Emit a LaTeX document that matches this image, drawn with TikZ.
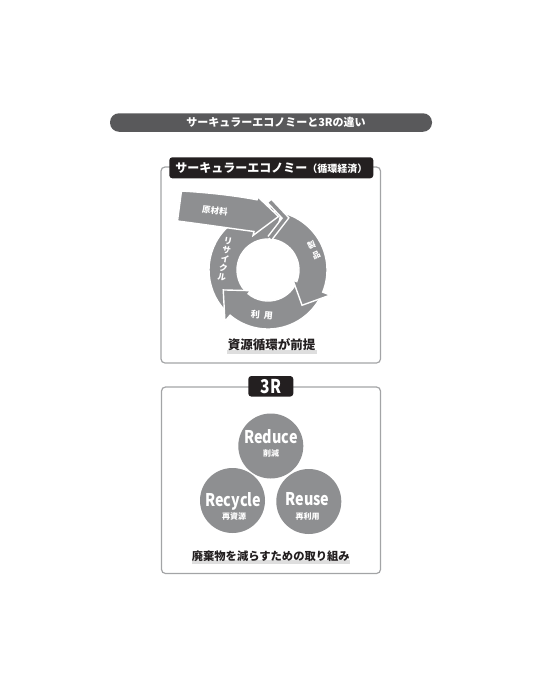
\documentclass[tikz,border=0pt]{standalone}
\usepackage{fontspec}
\setmainfont{Noto Sans CJK JP}
\newfontfamily\condfont{Noto Sans CJK JP}[FakeStretch=0.82]
\definecolor{ArrowGrey}{HTML}{8E8F91}
\definecolor{BarGrey}{HTML}{59595B}
\definecolor{TagBlack}{HTML}{231F20}
\definecolor{FrameGrey}{HTML}{A3A4A6}
\definecolor{MarkerGrey}{HTML}{DEDEDE}

\begin{document}
\begin{tikzpicture}[x=1pt, y=-1pt,
    boxframe/.style={draw=FrameGrey, line width=1.2pt, rounded corners=4pt},
    tagbox/.style={fill=TagBlack, rounded corners=3pt, text=white, font=\bfseries, inner sep=0pt},
    ring/.style={fill=ArrowGrey, draw=white, line width=1.4pt, line join=miter},
    ringtext/.style={text=white, font=\bfseries\fontsize{8.5}{10}\selectfont, inner sep=0pt},
    bubble/.style={circle, fill=ArrowGrey, minimum size=65pt, inner sep=0pt},
    bubbletext/.style={text=white, font=\condfont\bfseries\fontsize{17.5}{17.5}\selectfont, inner sep=0pt},
    subtext/.style={text=white, font=\bfseries\fontsize{8}{8}\selectfont, inner sep=0pt},
    caption/.style={text=TagBlack, font=\bfseries, inner sep=0pt}]
    \useasboundingbox (0,0) rectangle (544,689);

    % Title bar
    \node[fill=BarGrey, rounded corners=9pt, minimum width=322pt, minimum height=18.5pt, inner sep=0pt] (titlebar) at (271,122.5) {};
    \node[text=white, font=\bfseries\fontsize{11}{11}\selectfont, inner sep=0pt] (title) at (276,122.5) {サーキュラーエコノミーと3Rの違い};

    % Circular economy frame
    \draw[boxframe] (161,167) rectangle (380.5,363);
    \node[tagbox, minimum width=204pt, minimum height=21pt] (cetag) at (271.3,167.8) {{\fontsize{12}{12}\selectfont サーキュラーエコノミー}{\fontsize{10}{10}\selectfont （循環経済）}};

    % Ring of arrows
    \begin{scope}[shift={(268,270)}]
        \draw[ring] (130:59) arc[start angle=130, end angle=283, radius=59] -- (283:31) arc[start angle=283, end angle=130, radius=31] -- cycle;
        \draw[ring] (22:59) arc[start angle=22, end angle=130, radius=59] -- (130:67) -- (156:49) -- (130:27) -- (130:31) arc[start angle=130, end angle=22, radius=31] -- cycle;
        \draw[ring] (-88:31) -- (17.5,-52) -- (2,-68.5) -- (-88:59) arc[start angle=-88, end angle=22, radius=59] -- (22:67) -- (46:49) -- (22:27) -- (22:31) arc[start angle=22, end angle=-88, radius=31] -- cycle;
    \end{scope}

    % Chevron and raw material arrow
    \draw[white, line width=6.5pt, line join=miter] (270,201.5) -- (285.5,218) -- (270,238);
    \draw[ArrowGrey, line width=3.5pt, line join=miter] (270,201.5) -- (285.5,218) -- (270,238);
    \draw[ring] (181.5,191) .. controls (215,193) and (240,196.5) .. (257,199.8) -- (258,197) -- (278.5,216.5) -- (253,235.5) -- (254,231.5) .. controls (235,229) and (205,224.5) .. (177.5,221) -- cycle;

    % Ring labels
    \node[ringtext, rotate=-6] (raw) at (215,210.5) {原材料};
    \node[ringtext, rotate=24, align=center, font=\bfseries\fontsize{8}{9}\selectfont] (product) at (314,250) {製\\[2.5pt]品};
    \node[ringtext, rotate=-5, font=\bfseries\fontsize{9}{9}\selectfont] (use) at (262,315) {利\hspace{4pt}用};
    \node[ringtext, rotate=-10, align=center] (recycling) at (225,259) {リ\\[-1pt]サ\\[-1pt]イ\\[-1pt]ク\\[-1pt]ル};

    % Caption
    \fill[MarkerGrey] (226.5,349.5) rectangle (317,353.5);
    \node[caption, font=\bfseries\fontsize{12.5}{12.5}\selectfont] (cecaption) at (271.7,345) {資源循環が前提};

    % 3R frame
    \draw[boxframe] (161.5,387) rectangle (380.5,573.5);
    \node[tagbox, minimum width=45pt, minimum height=20.5pt] (rtag) at (270.8,386.3) {\condfont\bfseries\fontsize{19}{19}\selectfont 3R};

    % Three circles
    \node[bubble] (reduce) at (270.8,446) {};
    \node[bubble] (recycle) at (232.5,500.5) {};
    \node[bubble] (reuse) at (308.8,501.5) {};
    \node[bubbletext] (reducelabel) at (271,437) {Reduce};
    \node[subtext] (reducesub) at (271,453.7) {削減};
    \node[bubbletext] (recyclelabel) at (233.3,501) {Recycle};
    \node[subtext] (recyclesub) at (234,516.7) {再資源};
    \node[bubbletext] (reuselabel) at (307.5,499.5) {Reuse};
    \node[subtext] (reusesub) at (307.5,516.7) {再利用};

    % Caption
    \fill[MarkerGrey] (191.5,560) rectangle (350,564);
    \node[caption, font=\bfseries\fontsize{11.3}{11.3}\selectfont] (rcaption) at (270.8,556.5) {廃棄物を減らすための取り組み};
\end{tikzpicture}
\end{document}
